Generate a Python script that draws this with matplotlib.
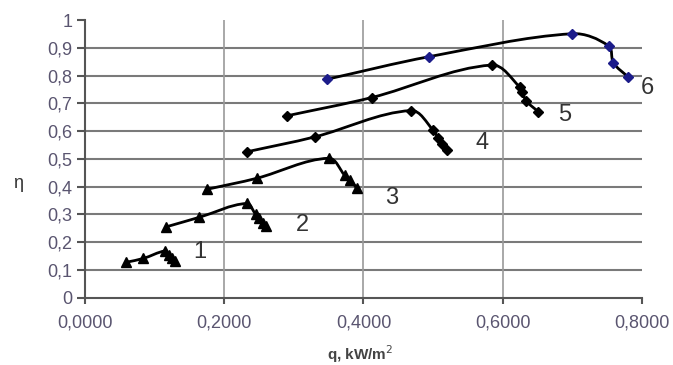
import numpy as np
import matplotlib.pyplot as plt
from matplotlib.path import Path
from matplotlib.patches import PathPatch
from matplotlib.ticker import FuncFormatter

plt.rcParams['font.family'] = ['Liberation Sans', 'DejaVu Sans']

# Curves: q [kW/m2] vs eta
q1 = [0.059, 0.084, 0.115, 0.121, 0.125, 0.129]
eta1 = [0.127, 0.141, 0.168, 0.155, 0.142, 0.131]

q2 = [0.117, 0.164, 0.232, 0.245, 0.250, 0.255, 0.260]
eta2 = [0.255, 0.289, 0.339, 0.300, 0.285, 0.270, 0.258]

q3 = [0.175, 0.247, 0.350, 0.373, 0.381, 0.390]
eta3 = [0.390, 0.430, 0.502, 0.441, 0.423, 0.395]

q4 = [0.232, 0.330, 0.468, 0.500, 0.507, 0.513, 0.520]
eta4 = [0.525, 0.579, 0.674, 0.604, 0.575, 0.553, 0.533]

q5 = [0.290, 0.412, 0.584, 0.625, 0.628, 0.634, 0.651]
eta5 = [0.655, 0.721, 0.838, 0.758, 0.740, 0.708, 0.670]

q6 = [0.348, 0.494, 0.700, 0.752, 0.759, 0.780]
eta6 = [0.787, 0.868, 0.951, 0.907, 0.846, 0.795]

curve_names = ['1', '2', '3', '4', '5', '6']
label_q = [0.165, 0.312, 0.441, 0.571, 0.689, 0.808]
label_eta = [0.165, 0.261, 0.357, 0.558, 0.658, 0.757]


def smooth_line(ax, xs, ys, **kw):
    # smoothed line drawn as cubic beziers through the measured points;
    # tangents are worked out in display space so the curve keeps its shape
    pts = ax.transData.transform(np.column_stack([xs, ys]))
    n = len(pts)
    dirs = []
    for i in range(n):
        d = pts[min(i + 1, n - 1)] - pts[max(i - 1, 0)]
        dirs.append(d / np.hypot(*d))
    verts = [pts[0]]
    codes = [Path.MOVETO]
    for i in range(n - 1):
        seg = np.hypot(*(pts[i + 1] - pts[i])) * 0.33
        verts += [pts[i] + dirs[i] * seg, pts[i + 1] - dirs[i + 1] * seg, pts[i + 1]]
        codes += [Path.CURVE4] * 3
    verts = ax.transData.inverted().transform(np.array(verts))
    ax.add_patch(PathPatch(Path(verts, codes), fill=False, **kw))


fig = plt.figure(figsize=(6.73, 3.65), dpi=100)
ax = fig.add_axes([0.1263, 0.1849, 0.8276, 0.760])
ax.set_xlim(0, 0.8)
ax.set_ylim(0, 1)

series = [(q1, eta1, '^', 7, 'black'),
          (q2, eta2, '^', 7, 'black'),
          (q3, eta3, '^', 7, 'black'),
          (q4, eta4, 'D', 5, 'black'),
          (q5, eta5, 'D', 5, 'black'),
          (q6, eta6, 'D', 5.5, '#1c1c8a')]

for xs, ys, m, ms, mc in series:
    smooth_line(ax, xs, ys, edgecolor='black', lw=2, zorder=2)
    ax.plot(xs, ys, ls='none', marker=m, ms=ms, mfc=mc, mec=mc, zorder=3)

for name, x, y in zip(curve_names, label_q, label_eta):
    ax.text(x, y, name, fontsize=17, color='#333333', ha='center', va='center')

ax.set_xticks([0, 0.2, 0.4, 0.6, 0.8])
ax.set_yticks([i / 10 for i in range(11)])
ax.xaxis.set_major_formatter(FuncFormatter(lambda v, p: f"{v:.4f}".replace('.', ',')))
ax.yaxis.set_major_formatter(FuncFormatter(
    lambda v, p: '0' if v == 0 else ('1' if v == 1 else f"{v:.1f}".replace('.', ','))))

# grid
for y in [i / 10 for i in range(1, 10)]:
    ax.axhline(y, color='#7a7a7a', lw=1.5, zorder=0)
for x in [0.2, 0.4, 0.6]:
    ax.axvline(x, color='#9a9a9a', lw=1.2, zorder=0)

for s in ['top', 'right']:
    ax.spines[s].set_visible(False)
for s in ['left', 'bottom']:
    ax.spines[s].set_color('#555555')
    ax.spines[s].set_linewidth(1.5)

ax.tick_params(axis='y', direction='out', length=6, width=1.5, color='#555555',
               labelsize=13, labelcolor='#5a5570', pad=3)
ax.tick_params(axis='x', direction='out', length=4, width=1.5, color='#555555',
               labelsize=13, labelcolor='#5a5570', pad=8)

ax.set_xlabel('q, kW/m$^2$', fontsize=11, fontweight='bold', color='#444444')
ax.xaxis.set_label_coords(0.494, -0.165)
ax.set_ylabel('η', fontsize=13, color='#333333', rotation=0, va='center')
ax.yaxis.set_label_coords(-0.12, 0.41)

fig.savefig('out.png', dpi=100)
